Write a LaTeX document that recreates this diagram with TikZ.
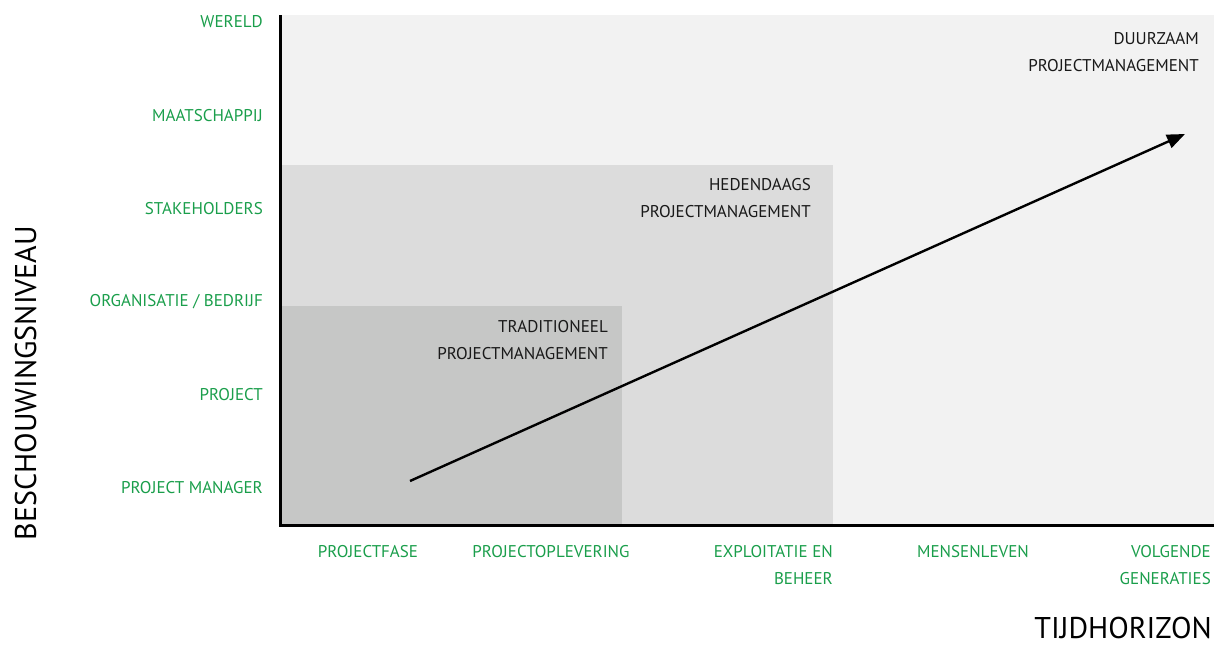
\documentclass[tikz,border=0pt]{standalone}
\usepackage{fontspec}
\setmainfont{PT Sans}
\usepackage{tikz}
\usetikzlibrary{arrows.meta}
\definecolor{levelgreen}{RGB}{26,158,75}
\definecolor{zonelight}{RGB}{242,242,242}
\definecolor{zonemid}{RGB}{220,220,220}
\definecolor{zonedark}{RGB}{198,199,198}
\tikzstyle{level}=[anchor=east, inner sep=0, text=levelgreen, font=\fontsize{17}{27}\selectfont]
\tikzstyle{horizon}=[anchor=north, inner sep=0, align=center, text=levelgreen, font=\fontsize{17}{27}\selectfont]
\tikzstyle{zone}=[anchor=north east, inner sep=0, align=right, text=black!90, font=\fontsize{17}{27}\selectfont]
\tikzstyle{axistitle}=[inner sep=0, font=\fontsize{30}{36}\selectfont]

\begin{document}
\begin{tikzpicture}[x=1pt, y=-1pt]
    \useasboundingbox (0,0) rectangle (1216,648);
    \fill[zonelight] (280,15) rectangle (1214,525);
    \fill[zonemid] (280,165) rectangle (833,525);
    \fill[zonedark] (280,306) rectangle (622,525);

    \coordinate (ytop) at (280,15);
    \coordinate (origin) at (280,525);
    \coordinate (xend) at (1214,525);
    \draw[line width=3pt] (ytop) -- (origin) -- (xend);

    \node[level] (wereld) at (263,22) {WERELD};
    \node[level] (maatschappij) at (263,116) {MAATSCHAPPIJ};
    \node[level] (stakeholders) at (263,209) {STAKEHOLDERS};
    \node[level] (organisatie) at (263,302) {ORGANISATIE / BEDRIJF};
    \node[level] (project) at (263,395) {PROJECT};
    \node[level] (manager) at (263,488) {PROJECT MANAGER};

    \node[horizon] (fase) at (368,545) {PROJECTFASE};
    \node[horizon] (oplevering) at (551,545) {PROJECTOPLEVERING};
    \node[horizon, anchor=north east, align=right] (exploitatie) at (833,545) {EXPLOITATIE EN\\BEHEER};
    \node[horizon] (mensenleven) at (973,545) {MENSENLEVEN};
    \node[horizon, anchor=north east, align=right] (generaties) at (1211,545) {VOLGENDE\\GENERATIES};

    \node[zone] (duurzaam) at (1199,32) {DUURZAAM\\PROJECTMANAGEMENT};
    \node[zone] (hedendaags) at (811,178) {HEDENDAAGS\\PROJECTMANAGEMENT};
    \node[zone] (traditioneel) at (608,320) {TRADITIONEEL\\PROJECTMANAGEMENT};

    \node[axistitle, anchor=base east] (tijd) at (1212,638) {TIJDHORIZON};
    \node[axistitle, rotate=90, anchor=base] (niveau) at (36,383) {BESCHOUWINGSNIVEAU};

    \coordinate (trendstart) at (410,481);
    \coordinate (trendend) at (1185,134);
    \draw[line width=2.4pt, -{Triangle[length=18pt, width=14pt]}] (trendstart) -- (trendend);
\end{tikzpicture}
\end{document}
